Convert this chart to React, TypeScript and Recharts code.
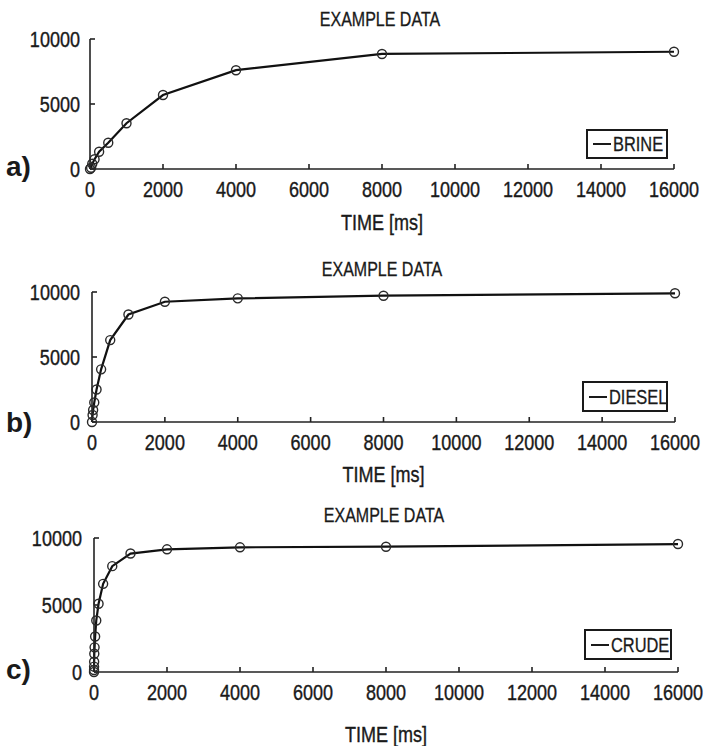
import React from 'react';
import { LineChart, Line, XAxis, YAxis, Legend, Label } from 'recharts';

// ---- data ----
const TIME_TICKS = [0, 2000, 4000, 6000, 8000, 10000, 12000, 14000, 16000];
const VALUE_TICKS = [0, 5000, 10000];

const brineTime = [0, 31, 62, 125, 250, 500, 1000, 2000, 4000, 8000, 16000];
const brineValue = [0, 100, 400, 750, 1330, 2020, 3520, 5690, 7600, 8850, 9020];

const dieselTime = [0, 16, 31, 62, 125, 250, 500, 1000, 2000, 4000, 8000, 16000];
const dieselValue = [0, 540, 920, 1500, 2500, 4050, 6300, 8270, 9250, 9510, 9715, 9900];

const crudeTime = [0, 1, 2, 4, 8, 16, 31, 62, 125, 250, 500, 1000, 2000, 4000, 8000, 16000];
const crudeValue = [0, 150, 400, 770, 1360, 1840, 2650, 3840, 5090, 6580, 7900, 8840, 9155, 9305, 9350, 9550];

const TITLE = 'EXAMPLE DATA';
const X_LABEL = 'TIME [ms]';

const FONT = '"Liberation Sans", Arial, sans-serif';
const INK = '#1a1a1a';
const SX = 0.82; // horizontal squeeze to imitate the narrow plotter font
const TICK_FS = 22;
const axisStyle = { stroke: '#222', strokeWidth: 1.6 };

const build = (t: number[], v: number[]) => t.map((x, i) => ({ t: x, v: v[i] }));

const NarrowText = ({ x, y, anchor, size, children }: any) => (
  <text
    x={0}
    y={0}
    transform={`translate(${x},${y}) scale(${SX},1)`}
    textAnchor={anchor}
    fontFamily={FONT}
    fontSize={size}
    fill={INK}
    stroke={INK}
    strokeWidth={0.4}
  >
    {children}
  </text>
);

const XTick = (props: any) => (
  <NarrowText x={props.x} y={props.y + 0.72 * TICK_FS} anchor="middle" size={TICK_FS}>
    {props.payload.value}
  </NarrowText>
);

const YTick = (props: any) => (
  <NarrowText x={props.x} y={props.y + 0.358 * TICK_FS} anchor="end" size={TICK_FS}>
    {props.payload.value}
  </NarrowText>
);

const HtmlNarrow = ({ cx, baseline, size, children }: any) => (
  <div
    style={{
      position: 'absolute',
      left: cx,
      top: baseline - 0.8465 * size,
      transform: `translateX(-50%) scaleX(${SX})`,
      whiteSpace: 'nowrap',
      fontFamily: FONT,
      fontSize: size,
      lineHeight: `${size}px`,
      color: INK,
      WebkitTextStroke: '0.3px #1a1a1a',
    }}
  >
    {children}
  </div>
);

type PanelProps = {
  data: { t: number; v: number }[];
  name: string;
  top: number;
  height: number;
  margin: { top: number; right: number; bottom: number; left: number };
  yWidth: number;
  yTickMargin: number;
  titleBaseline: number;
  labelOffset: number;
  legend: { left: number; top: number; width: number; height: number };
  letter: string;
  letterTop: number;
};

const LegendBox = (props: any) => {
  const item = (props.payload || []).find((p: any) => p.type !== 'none');
  return (
    <div
      style={{
        boxSizing: 'border-box',
        width: '100%',
        height: '100%',
        border: `2px solid ${INK}`,
        borderRightWidth: 2.5,
        borderBottomWidth: 2.5,
        display: 'flex',
        alignItems: 'center',
        paddingLeft: 5,
        color: INK,
        background: '#fff',
        overflow: 'visible',
      }}
    >
      <span style={{ display: 'inline-block', width: 18, height: 0, borderTop: `2px solid ${INK}`, flex: 'none' }} />
      <span
        style={{
          display: 'inline-block',
          fontFamily: FONT,
          fontSize: 20,
          lineHeight: '20px',
          transform: `scaleX(${SX})`,
          transformOrigin: 'left center',
          whiteSpace: 'nowrap',
          marginLeft: 2,
          WebkitTextStroke: '0.3px #1a1a1a',
        }}
      >
        {item ? item.value : ''}
      </span>
    </div>
  );
};

const XLabelContent = (offset: number) => (props: any) => {
  const vb = props.viewBox || {};
  return (
    <NarrowText x={vb.x + vb.width / 2} y={vb.y + vb.height + offset} anchor="middle" size={22}>
      {X_LABEL}
    </NarrowText>
  );
};

const Panel = (p: PanelProps) => {
  const plotLeft = p.margin.left + p.yWidth;
  const plotRight = 704 - p.margin.right;
  const cx = (plotLeft + plotRight) / 2;
  return (
    <>
      <div style={{ position: 'absolute', left: 0, top: p.top, width: 704, height: p.height }}>
        <LineChart width={704} height={p.height} data={p.data} margin={p.margin} style={{ overflow: 'visible' }}>
          <XAxis
            dataKey="t"
            type="number"
            domain={[0, 16000]}
            ticks={TIME_TICKS}
            interval={0}
            height={30}
            tickSize={-5}
            tickMargin={17}
            axisLine={axisStyle}
            tickLine={axisStyle}
            tick={XTick}
          >
            <Label position="bottom" content={XLabelContent(p.labelOffset)} />
          </XAxis>
          <XAxis
            xAxisId="top"
            orientation="top"
            dataKey="t"
            type="number"
            domain={[0, 16000]}
            ticks={TIME_TICKS}
            interval={0}
            height={0}
            tickSize={-5}
            tick={false}
            axisLine={axisStyle}
            tickLine={axisStyle}
          />
          <YAxis
            type="number"
            domain={[0, 10000]}
            ticks={VALUE_TICKS}
            interval={0}
            width={p.yWidth}
            tickSize={-5}
            tickMargin={p.yTickMargin}
            axisLine={axisStyle}
            tickLine={axisStyle}
            tick={YTick}
          />
          <YAxis
            yAxisId="right"
            orientation="right"
            type="number"
            domain={[0, 10000]}
            ticks={VALUE_TICKS}
            interval={0}
            width={0}
            tickSize={-5}
            tick={false}
            axisLine={axisStyle}
            tickLine={axisStyle}
          />
          <Line
            xAxisId="top"
            yAxisId="right"
            dataKey="v"
            stroke="none"
            dot={false}
            activeDot={false}
            legendType="none"
            isAnimationActive={false}
          />
          <Line
            type="linear"
            dataKey="v"
            name={p.name}
            stroke="#111"
            strokeWidth={2.2}
            dot={{ r: 4.5, stroke: '#2a2a2a', strokeWidth: 1.4, fill: 'none' }}
            activeDot={false}
            isAnimationActive={false}
          />
          <Legend
            layout="horizontal"
            verticalAlign="middle"
            align="center"
            width={p.legend.width}
            height={p.legend.height}
            wrapperStyle={{ left: p.legend.left, top: p.legend.top, width: p.legend.width, height: p.legend.height }}
            content={(props: any) => <LegendBox {...props} />}
          />
        </LineChart>
      </div>
      <HtmlNarrow cx={cx - 2} baseline={p.titleBaseline} size={19.5}>
        {TITLE}
      </HtmlNarrow>
      <div
        style={{
          position: 'absolute',
          left: 6,
          top: p.letterTop,
          fontFamily: FONT,
          fontWeight: 'bold',
          fontSize: 28,
          lineHeight: '28px',
          color: INK,
        }}
      >
        {p.letter}
      </div>
    </>
  );
};

export default function App() {
  return (
    <div style={{ position: 'absolute', left: 0, top: 0, width: 704, height: 746, background: '#fff', overflow: 'hidden' }}>
      <Panel
        data={build(brineTime, brineValue)}
        name="BRINE"
        top={0}
        height={245}
        margin={{ top: 39, right: 30, bottom: 46, left: 0 }}
        yWidth={90}
        yTickMargin={15}
        titleBaseline={27}
        labelOffset={31}
        legend={{ left: 586, top: 129, width: 82, height: 30 }}
        letter="a)"
        letterTop={153}
      />
      <Panel
        data={build(dieselTime, dieselValue)}
        name="DIESEL"
        top={245}
        height={250}
        margin={{ top: 47, right: 29, bottom: 43, left: 0 }}
        yWidth={92}
        yTickMargin={17}
        titleBaseline={277}
        labelOffset={30}
        legend={{ left: 582, top: 136, width: 86, height: 31 }}
        letter="b)"
        letterTop={409}
      />
      <Panel
        data={build(crudeTime, crudeValue)}
        name="CRUDE"
        top={495}
        height={251}
        margin={{ top: 43, right: 26, bottom: 44, left: 0 }}
        yWidth={94}
        yTickMargin={17}
        titleBaseline={523}
        labelOffset={40}
        legend={{ left: 584, top: 134, width: 88, height: 31 }}
        letter="c)"
        letterTop={656}
      />
    </div>
  );
}
